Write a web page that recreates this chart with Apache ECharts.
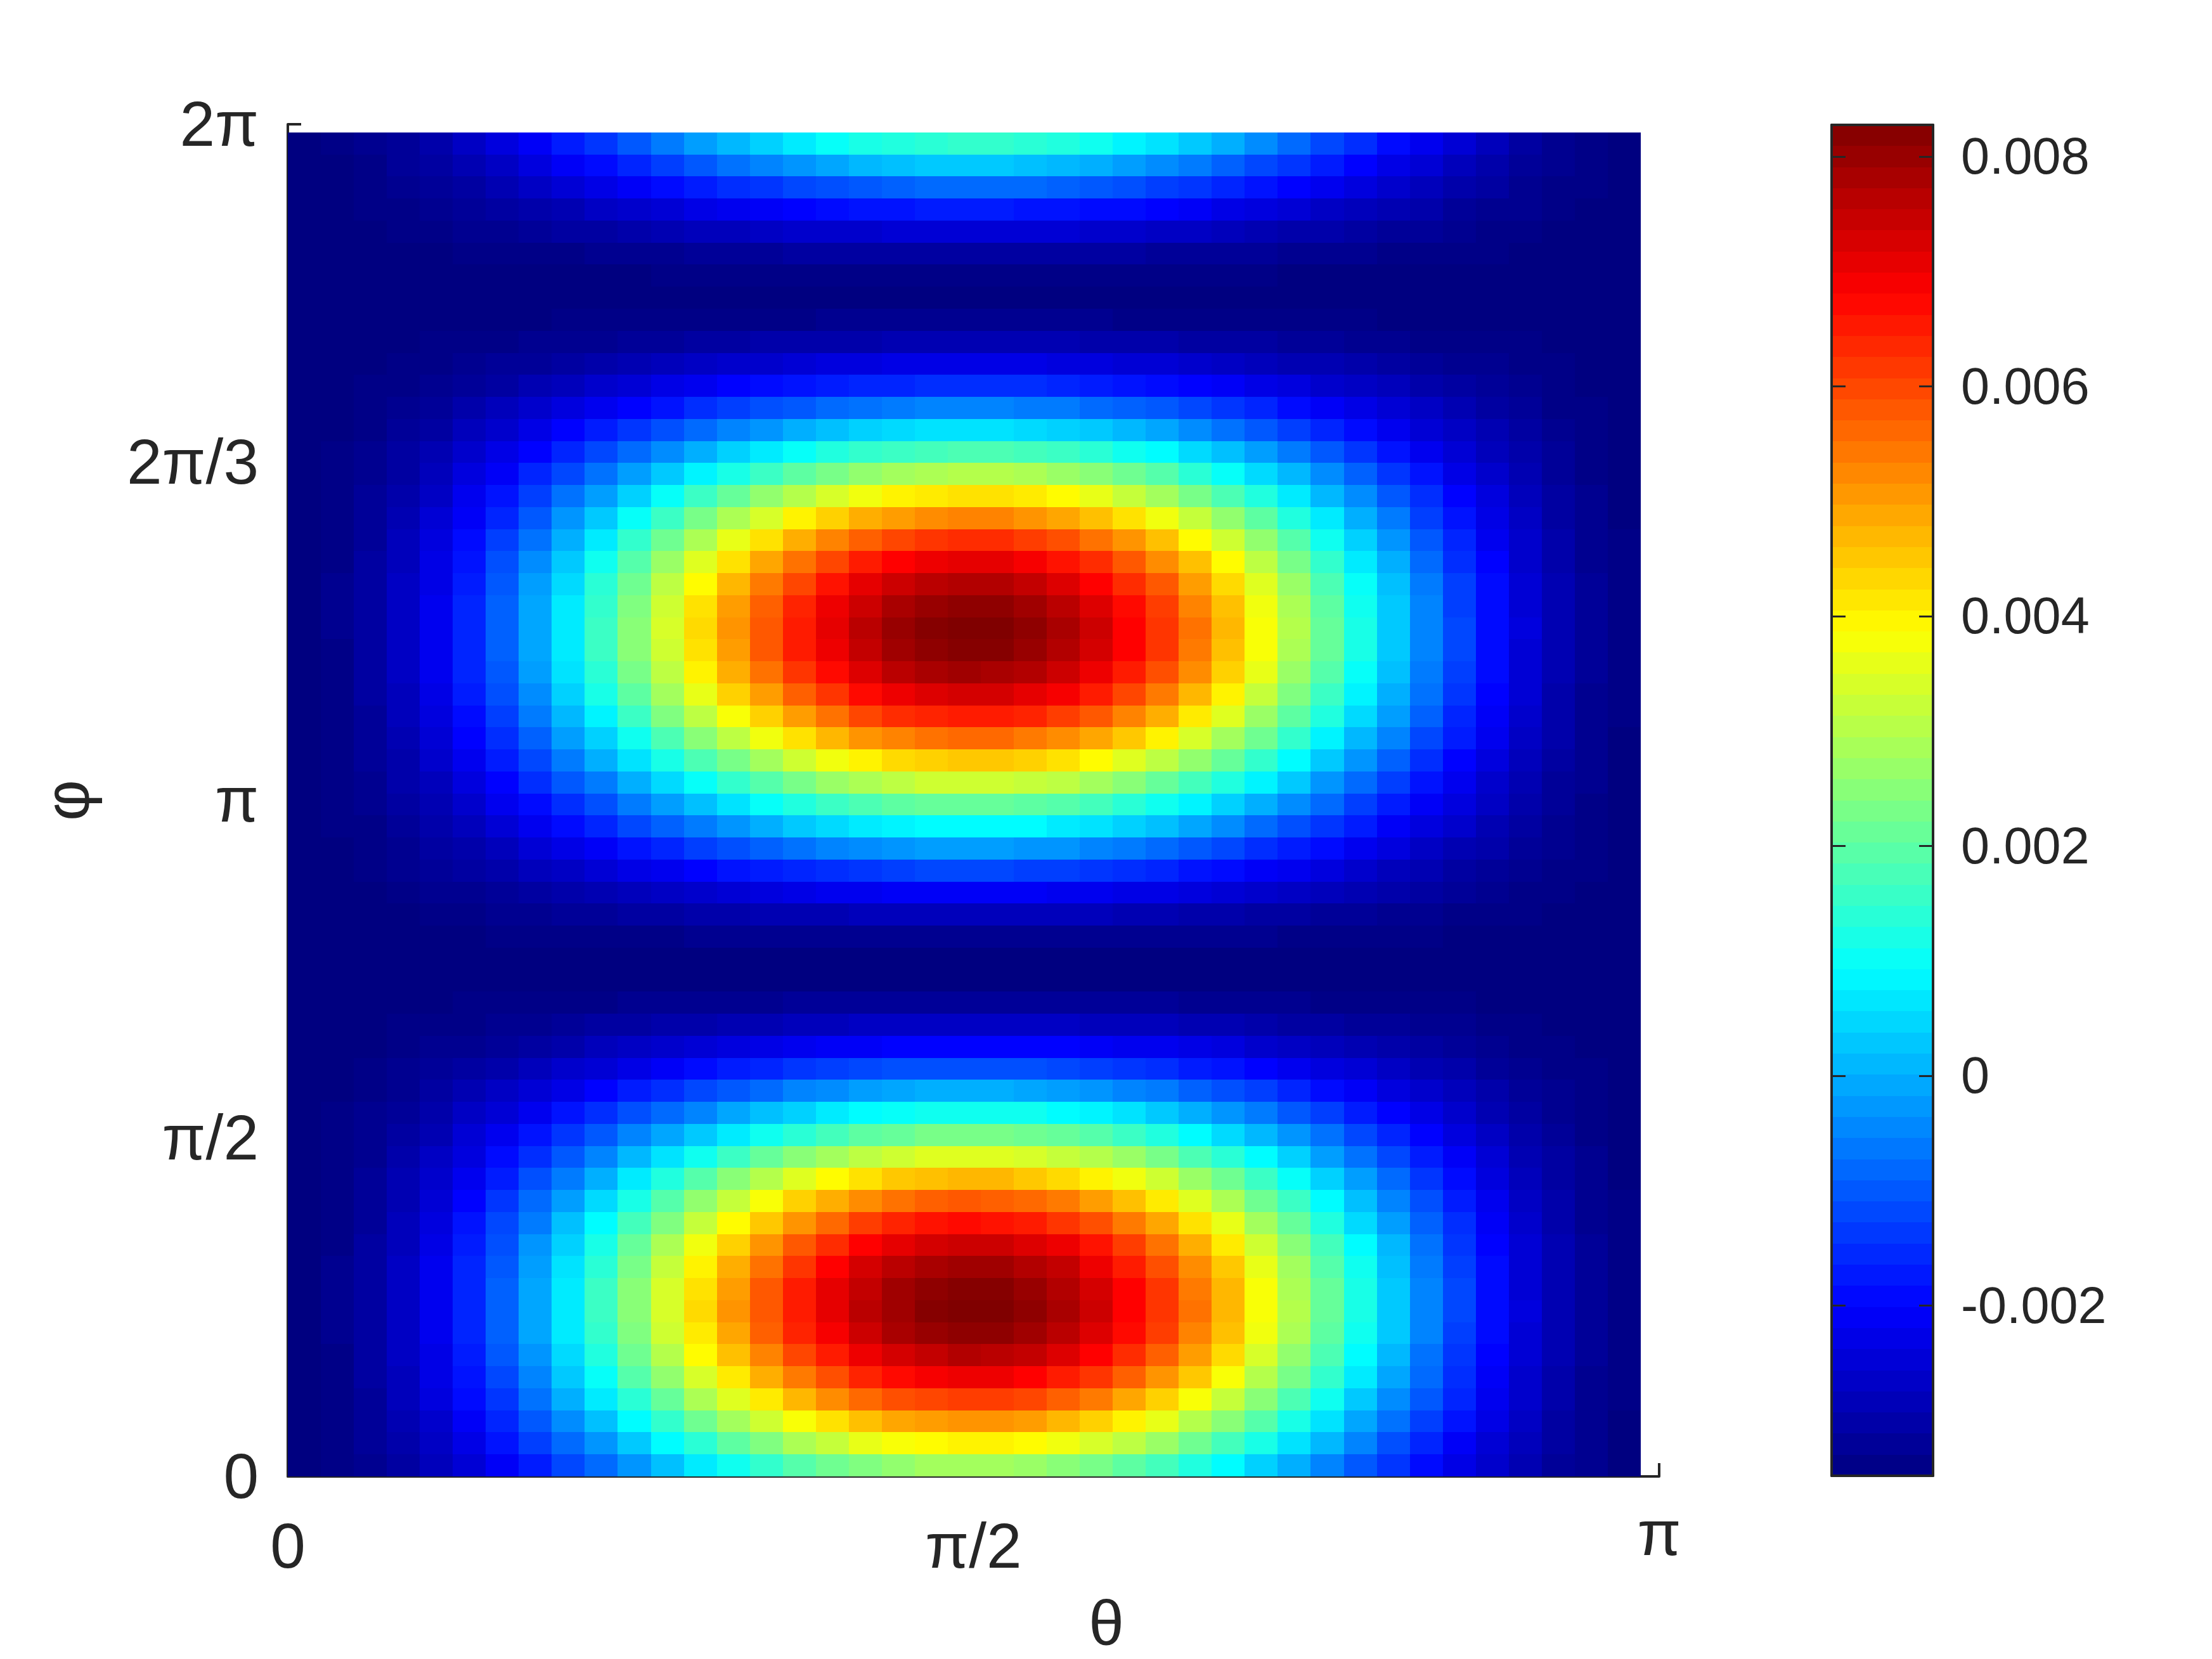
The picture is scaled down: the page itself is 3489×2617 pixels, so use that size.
<!DOCTYPE html>
<html>
<head>
<meta charset="utf-8">
<title>theta phi map</title>
<script src="https://cdn.jsdelivr.net/npm/echarts@6/dist/echarts.min.js"></script>
<style>
html,body{margin:0;padding:0;background:#fff;}
#main{width:3489px;height:2617px;}
</style>
</head>
<body>
<div id="main"></div>
<script>
// tick labels
var thetaTickValues = [0, Math.PI / 2, Math.PI];
var thetaTickLabels = ['0', 'π/2', '{up|π}'];
var phiTickValues = [0, Math.PI / 2, Math.PI, 3 * Math.PI / 2, 2 * Math.PI];
var phiTickLabels = ['0', 'π/2', 'π', '2π/3', '2π'];
var colorbarTickValues = [-0.002, 0, 0.002, 0.004, 0.006, 0.008];
var colorbarTickLabels = ['-0.002', '0', '0.002', '0.004', '0.006', '0.008'];

// the image stops a little short of the axis ends
var thetaDataMax = 3.0994;
var phiDataMax = 6.245;
var colorMin = -0.003482;
var colorMax = 0.008275;
var colorLevels = 64;
var jetColors = ['#000080', '#0000ff', '#0080ff', '#00ffff', '#80ff80', '#ffff00', '#ff8000', '#ff0000', '#800000'];

// values, unit 1e-4, first row is phi=0, 41 columns over theta
var fieldRows = [
[-35,-34,-33,-31,-28,-25,-21,-17,-12,-8,-3,2,7,11,15,19,22,24,26,28,28,28,27,25,23,20,17,13,9,4,0,-5,-10,-14,-19,-23,-26,-29,-32,-33,-35],
[-35,-34,-32,-30,-27,-23,-18,-13,-8,-3,3,9,14,20,24,29,32,36,38,39,40,40,39,37,34,31,27,22,17,12,6,1,-5,-11,-16,-21,-25,-28,-31,-33,-35],
[-35,-34,-32,-29,-26,-21,-16,-10,-4,2,9,15,22,28,33,38,42,46,49,50,51,51,50,47,44,40,36,30,25,19,12,6,-1,-7,-13,-18,-23,-27,-31,-33,-35],
[-35,-34,-32,-28,-24,-19,-14,-7,0,7,14,21,29,35,41,47,52,56,59,60,61,61,60,57,54,49,44,38,32,25,18,11,3,-4,-10,-16,-22,-26,-30,-33,-34],
[-35,-34,-31,-28,-23,-18,-12,-5,3,10,19,26,34,41,48,54,59,64,67,69,70,70,68,65,62,57,51,45,38,30,23,15,7,-1,-8,-15,-21,-26,-30,-33,-34],
[-35,-34,-31,-27,-23,-17,-10,-3,5,13,22,30,39,46,53,60,65,70,73,75,77,76,75,72,68,63,57,50,43,34,26,18,9,1,-7,-14,-20,-25,-29,-32,-34],
[-35,-33,-31,-27,-22,-16,-9,-1,7,15,24,33,41,49,57,64,69,74,78,80,81,81,79,76,72,67,61,53,46,37,29,20,11,3,-5,-13,-19,-25,-29,-32,-34],
[-35,-33,-31,-27,-22,-16,-9,-1,7,16,25,34,43,51,58,65,71,76,79,82,83,83,81,78,74,68,62,55,47,38,30,21,12,3,-5,-12,-19,-24,-29,-32,-34],
[-35,-33,-31,-27,-22,-16,-9,-1,7,16,25,34,42,50,58,65,71,75,79,81,82,82,80,77,73,68,62,54,47,38,29,21,12,3,-5,-12,-19,-25,-29,-32,-34],
[-35,-33,-31,-27,-22,-16,-10,-2,6,14,23,32,40,48,55,62,68,73,76,78,79,79,77,75,70,65,59,52,45,36,28,19,11,2,-6,-13,-19,-25,-29,-32,-34],
[-35,-34,-31,-28,-23,-17,-11,-3,4,12,21,29,37,44,51,58,63,68,71,73,74,74,72,70,66,61,55,48,41,33,25,17,9,1,-7,-14,-20,-25,-29,-32,-34],
[-35,-34,-32,-28,-24,-18,-12,-6,2,9,17,24,32,39,45,51,56,61,64,66,67,66,65,62,59,54,49,42,36,28,21,13,5,-2,-9,-15,-21,-26,-30,-33,-34],
[-35,-34,-32,-29,-25,-20,-14,-8,-2,5,12,19,26,32,38,44,48,52,55,57,58,57,56,54,50,46,41,35,29,22,16,9,2,-5,-11,-17,-22,-27,-30,-33,-34],
[-35,-34,-32,-29,-26,-22,-17,-11,-6,0,7,13,19,25,30,35,39,42,45,46,47,47,45,43,40,37,33,27,22,16,10,4,-2,-8,-14,-19,-24,-28,-31,-33,-35],
[-35,-34,-33,-30,-27,-24,-19,-15,-10,-5,1,6,11,16,21,25,28,31,33,35,35,35,34,32,30,27,23,18,14,9,4,-2,-7,-12,-17,-21,-25,-29,-31,-33,-35],
[-35,-34,-33,-31,-29,-25,-22,-18,-14,-10,-5,-1,3,7,11,14,17,20,21,23,23,23,22,21,19,16,13,9,5,1,-3,-7,-12,-16,-20,-24,-27,-30,-32,-34,-35],
[-35,-34,-33,-32,-30,-27,-25,-22,-18,-15,-11,-8,-5,-1,2,4,7,9,10,11,11,11,11,9,8,6,3,0,-3,-6,-10,-13,-17,-20,-23,-26,-29,-31,-33,-34,-35],
[-35,-35,-34,-33,-31,-29,-27,-25,-23,-20,-17,-15,-12,-10,-8,-5,-4,-2,-1,0,0,0,-1,-2,-3,-5,-6,-9,-11,-13,-16,-19,-21,-24,-26,-28,-30,-32,-33,-34,-35],
[-35,-35,-34,-33,-32,-31,-30,-28,-26,-25,-23,-21,-19,-17,-16,-14,-13,-12,-11,-11,-11,-11,-11,-12,-13,-14,-15,-17,-18,-20,-22,-24,-25,-27,-29,-30,-32,-33,-34,-34,-35],
[-35,-35,-35,-34,-33,-33,-32,-31,-30,-28,-27,-26,-25,-24,-23,-22,-21,-21,-20,-20,-20,-20,-20,-20,-21,-22,-22,-23,-24,-26,-27,-28,-29,-30,-31,-32,-33,-34,-34,-35,-35],
[-35,-35,-35,-34,-34,-34,-33,-33,-32,-31,-31,-30,-30,-29,-29,-28,-28,-27,-27,-27,-27,-27,-27,-27,-28,-28,-28,-29,-29,-30,-31,-31,-32,-32,-33,-33,-34,-34,-35,-35,-35],
[-35,-35,-35,-35,-35,-34,-34,-34,-34,-34,-33,-33,-33,-33,-33,-32,-32,-32,-32,-32,-32,-32,-32,-32,-32,-32,-32,-33,-33,-33,-33,-34,-34,-34,-34,-34,-35,-35,-35,-35,-35],
[-35,-35,-35,-35,-35,-35,-35,-35,-35,-35,-35,-35,-35,-35,-35,-35,-35,-35,-35,-35,-35,-35,-35,-35,-35,-35,-35,-35,-35,-35,-35,-35,-35,-35,-35,-35,-35,-35,-35,-35,-35],
[-35,-35,-35,-35,-35,-35,-35,-35,-35,-35,-35,-35,-35,-35,-35,-35,-35,-35,-35,-35,-35,-35,-35,-35,-35,-35,-35,-35,-35,-35,-35,-35,-35,-35,-35,-35,-35,-35,-35,-35,-35],
[-35,-35,-35,-35,-35,-35,-34,-34,-34,-34,-34,-34,-33,-33,-33,-33,-33,-33,-33,-33,-33,-33,-33,-33,-33,-33,-33,-33,-33,-33,-34,-34,-34,-34,-34,-35,-35,-35,-35,-35,-35],
[-35,-35,-35,-35,-34,-34,-33,-33,-32,-32,-31,-31,-30,-30,-29,-29,-29,-28,-28,-28,-28,-28,-28,-28,-28,-29,-29,-30,-30,-31,-31,-32,-32,-33,-33,-34,-34,-34,-35,-35,-35],
[-35,-35,-35,-34,-33,-33,-32,-31,-30,-29,-28,-27,-26,-25,-24,-23,-22,-22,-21,-21,-21,-21,-21,-22,-22,-23,-23,-24,-25,-26,-27,-28,-29,-30,-31,-32,-33,-34,-34,-35,-35],
[-35,-35,-34,-33,-32,-31,-30,-28,-27,-25,-23,-22,-20,-18,-17,-16,-15,-14,-13,-12,-12,-12,-13,-13,-14,-15,-16,-18,-19,-21,-22,-24,-26,-28,-29,-31,-32,-33,-34,-34,-35],
[-35,-35,-34,-33,-31,-30,-28,-25,-23,-21,-18,-16,-13,-11,-9,-7,-5,-4,-3,-2,-2,-2,-3,-3,-5,-6,-8,-10,-12,-15,-17,-19,-22,-24,-27,-29,-30,-32,-33,-34,-35],
[-35,-34,-34,-32,-30,-28,-25,-22,-19,-16,-12,-9,-6,-3,0,3,5,7,8,9,9,9,9,7,6,4,2,-1,-4,-8,-11,-14,-17,-21,-24,-26,-29,-31,-33,-34,-35],
[-35,-34,-33,-31,-29,-26,-22,-19,-15,-11,-6,-2,2,6,10,13,16,18,20,21,21,21,20,19,17,14,11,8,4,0,-4,-8,-13,-17,-21,-24,-27,-30,-32,-34,-35],
[-35,-34,-33,-30,-28,-24,-20,-15,-10,-6,0,5,10,15,19,23,27,29,31,33,33,33,32,31,28,25,21,17,13,8,3,-3,-8,-13,-18,-22,-26,-29,-32,-33,-35],
[-35,-34,-32,-30,-26,-22,-17,-12,-6,0,6,12,18,23,28,33,37,40,43,44,45,45,44,42,39,35,31,26,21,15,9,3,-3,-9,-15,-20,-24,-28,-31,-33,-35],
[-35,-34,-32,-29,-25,-20,-15,-9,-2,4,11,18,25,31,37,42,47,51,53,55,56,56,54,52,49,45,40,34,28,22,15,8,1,-5,-12,-17,-22,-27,-30,-33,-35],
[-35,-34,-32,-28,-24,-19,-13,-6,1,8,16,24,31,38,44,50,55,60,63,64,65,65,64,61,58,53,48,41,35,27,20,13,5,-2,-9,-16,-21,-26,-30,-33,-34],
[-35,-34,-31,-28,-23,-17,-11,-4,4,12,20,28,36,44,50,57,62,67,70,72,73,73,71,69,65,60,54,47,40,32,24,16,8,0,-7,-14,-20,-25,-30,-33,-34],
[-35,-34,-31,-27,-22,-16,-10,-2,6,14,23,31,40,48,55,62,67,72,76,78,79,78,77,74,70,65,59,52,44,36,27,19,10,2,-6,-13,-19,-25,-29,-32,-34],
[-35,-34,-31,-27,-22,-16,-9,-1,7,16,25,33,42,50,58,65,70,75,79,81,82,82,80,77,73,68,62,54,46,38,29,21,12,3,-5,-12,-19,-25,-29,-32,-34],
[-35,-33,-31,-27,-22,-16,-9,-1,7,16,25,34,43,51,58,65,71,76,80,82,83,83,81,78,74,68,62,55,47,38,30,21,12,3,-5,-12,-19,-24,-29,-32,-34],
[-35,-33,-31,-27,-22,-16,-9,-1,7,15,24,33,42,50,57,64,70,74,78,80,81,81,79,76,72,67,61,53,46,37,29,20,11,3,-5,-13,-19,-25,-29,-32,-34],
[-35,-33,-31,-27,-23,-17,-10,-2,5,14,22,31,39,47,54,60,66,71,74,76,77,77,75,72,68,63,58,50,43,35,27,18,10,2,-6,-13,-19,-25,-29,-32,-34],
[-35,-34,-31,-28,-23,-18,-11,-4,3,11,19,27,35,42,49,55,60,65,68,70,71,71,69,66,63,58,52,46,39,31,23,15,7,0,-8,-15,-20,-26,-30,-33,-34],
[-35,-34,-32,-28,-24,-19,-13,-7,0,7,15,22,29,36,42,48,53,57,60,62,63,63,61,59,55,51,46,39,33,26,19,11,4,-3,-10,-16,-22,-26,-30,-33,-34],
[-35,-34,-32,-29,-25,-21,-16,-10,-3,3,10,16,23,29,34,40,44,48,50,52,53,53,51,49,46,42,37,32,26,20,13,7,0,-6,-13,-18,-23,-27,-31,-33,-35],
[-35,-34,-32,-30,-27,-22,-18,-13,-7,-2,4,10,16,21,26,30,34,37,40,41,42,42,41,39,36,32,28,23,18,13,7,1,-4,-10,-15,-20,-24,-28,-31,-33,-35],
[-35,-34,-33,-31,-28,-24,-21,-16,-12,-7,-2,3,8,12,16,20,23,26,28,29,30,30,29,27,25,22,19,14,10,5,1,-4,-9,-14,-18,-23,-26,-29,-32,-34,-35],
[-35,-34,-33,-31,-29,-26,-23,-20,-16,-12,-8,-4,0,4,7,10,13,15,16,17,18,18,17,16,14,11,9,5,2,-2,-6,-10,-14,-18,-22,-25,-28,-30,-32,-34,-35],
[-35,-35,-34,-32,-31,-28,-26,-23,-20,-17,-14,-11,-8,-5,-3,0,2,4,5,6,6,6,5,4,3,1,-1,-4,-7,-10,-13,-16,-19,-22,-25,-27,-29,-31,-33,-34,-35],
[-35,-35,-34,-33,-32,-30,-28,-26,-24,-22,-20,-18,-15,-13,-11,-10,-8,-7,-6,-5,-5,-5,-6,-6,-8,-9,-10,-12,-14,-16,-19,-21,-23,-25,-27,-29,-31,-32,-34,-34,-35],
[-35,-35,-34,-34,-33,-32,-31,-29,-28,-26,-25,-23,-22,-20,-19,-18,-17,-16,-16,-15,-15,-15,-15,-16,-17,-18,-19,-20,-21,-23,-24,-26,-27,-28,-30,-31,-32,-33,-34,-35,-35],
[-35,-35,-35,-34,-34,-33,-32,-32,-31,-30,-29,-28,-27,-26,-26,-25,-24,-24,-23,-23,-23,-23,-23,-24,-24,-25,-25,-26,-27,-28,-29,-29,-30,-31,-32,-33,-33,-34,-34,-35,-35],
[-35,-35,-35,-35,-34,-34,-34,-33,-33,-33,-32,-32,-31,-31,-30,-30,-30,-30,-29,-29,-29,-29,-29,-29,-30,-30,-30,-31,-31,-31,-32,-32,-33,-33,-34,-34,-34,-34,-35,-35,-35],
[-35,-35,-35,-35,-35,-35,-35,-35,-34,-34,-34,-34,-34,-34,-34,-34,-33,-33,-33,-33,-33,-33,-33,-33,-33,-34,-34,-34,-34,-34,-34,-34,-34,-35,-35,-35,-35,-35,-35,-35,-35],
[-35,-35,-35,-35,-35,-35,-35,-35,-35,-35,-35,-35,-35,-35,-35,-35,-35,-35,-35,-35,-35,-35,-35,-35,-35,-35,-35,-35,-35,-35,-35,-35,-35,-35,-35,-35,-35,-35,-35,-35,-35],
[-35,-35,-35,-35,-35,-35,-35,-35,-35,-35,-35,-34,-34,-34,-34,-34,-34,-34,-34,-34,-34,-34,-34,-34,-34,-34,-34,-34,-34,-34,-35,-35,-35,-35,-35,-35,-35,-35,-35,-35,-35],
[-35,-35,-35,-35,-35,-34,-34,-34,-34,-33,-33,-33,-32,-32,-32,-31,-31,-31,-31,-31,-31,-31,-31,-31,-31,-31,-32,-32,-32,-32,-33,-33,-33,-34,-34,-34,-34,-35,-35,-35,-35],
[-35,-35,-35,-34,-34,-33,-33,-32,-31,-31,-30,-29,-28,-28,-27,-26,-26,-26,-25,-25,-25,-25,-25,-25,-26,-26,-27,-27,-28,-29,-30,-30,-31,-32,-32,-33,-34,-34,-35,-35,-35],
[-35,-35,-34,-34,-33,-32,-31,-30,-29,-27,-26,-25,-23,-22,-21,-20,-19,-18,-18,-17,-17,-17,-18,-18,-19,-19,-20,-21,-23,-24,-25,-27,-28,-29,-30,-32,-33,-33,-34,-35,-35],
[-35,-35,-34,-33,-32,-31,-29,-27,-25,-23,-21,-19,-17,-15,-14,-12,-11,-10,-9,-8,-8,-8,-8,-9,-10,-11,-13,-14,-16,-18,-20,-22,-24,-26,-28,-30,-31,-33,-34,-34,-35],
[-35,-35,-34,-32,-31,-29,-27,-24,-21,-19,-16,-13,-10,-7,-5,-3,-1,1,2,3,3,3,2,1,0,-2,-4,-6,-9,-12,-14,-17,-20,-23,-25,-28,-30,-32,-33,-34,-35],
[-35,-34,-33,-32,-30,-27,-24,-21,-17,-14,-10,-6,-2,1,4,7,10,12,13,14,15,15,14,13,11,8,6,3,0,-4,-8,-12,-15,-19,-22,-25,-28,-31,-33,-34,-35]
];

var textColor = '#262626';
var labelFont = '"Liberation Sans", Arial, sans-serif';

// [theta0, theta1, phi0, phi1, value] for every cell of the map
function getFieldData(){
    var data = [];
    var rows = fieldRows.length;
    for(var j=0;j<rows;j++){
        var cols = fieldRows[j].length;
        for(var i=0;i<cols;i++){
            data.push([
                thetaDataMax*i/cols, thetaDataMax*(i+1)/cols,
                phiDataMax*j/rows, phiDataMax*(j+1)/rows,
                fieldRows[j][i]*1e-4
            ]);
        }
    }
    return data;
}

// one cell per colour level of the bar
function getColorbarData(){
    var data = [];
    var step = (colorMax-colorMin)/colorLevels;
    for(var i=0;i<colorLevels;i++){
        data.push([0, 1, colorMin+step*i, colorMin+step*(i+1), colorMin+step*(i+0.5)]);
    }
    return data;
}

// whole pixels so that no white seam shows between cells
function renderCell(params, api){
    var p0 = api.coord([api.value(0), api.value(2)]);
    var p1 = api.coord([api.value(1), api.value(3)]);
    var x0 = Math.round(p0[0]), x1 = Math.round(p1[0]);
    var y0 = Math.round(p0[1]), y1 = Math.round(p1[1]);
    return {
        type: 'rect',
        shape: {x: x0, y: y1, width: x1-x0, height: y0-y1},
        style: {fill: api.visual('color')}
    };
}

function pickLabel(values, labels){
    return function(value){
        for(var i=0;i<values.length;i++){
            if(Math.abs(values[i]-value)<1e-9){
                return labels[i];
            }
        }
        return '';
    };
}

var myChart = echarts.init(document.getElementById('main'));
var frameLine = {show: true, onZero: false, lineStyle: {color: textColor, width: 4}};

var option = {
    animation: false,
    backgroundColor: '#fff',
    grid: [
        {left: 454, top: 196, width: 2163, height: 2133},
        {left: 2889, top: 197, width: 160, height: 2131}
    ],
    visualMap: {
        show: false,
        type: 'continuous',
        min: colorMin,
        max: colorMax,
        dimension: 4,
        seriesIndex: [0, 1],
        inRange: {color: jetColors}
    },
    xAxis: [
        {
            gridIndex: 0, type: 'value', min: 0, max: Math.PI, position: 'bottom',
            axisLine: frameLine,
            axisTick: {show: true, inside: true, length: 21, customValues: thetaTickValues,
                lineStyle: {color: textColor, width: 4}},
            axisLabel: {show: true, margin: 66, customValues: thetaTickValues, hideOverlap: false,
                showMinLabel: true, showMaxLabel: true,
                formatter: pickLabel(thetaTickValues, thetaTickLabels),
                color: textColor, fontFamily: labelFont, fontSize: 100,
                // the pi label sits higher, its top lines up with the digits
                rich: {up: {lineHeight: 60, color: textColor, fontFamily: labelFont, fontSize: 100}}},
            splitLine: {show: false}
        },
        {
            gridIndex: 1, type: 'value', min: 0, max: 1, position: 'bottom', z: 5,
            axisLine: frameLine, axisTick: {show: false}, axisLabel: {show: false}, splitLine: {show: false}
        },
        {
            gridIndex: 1, type: 'value', min: 0, max: 1, position: 'top', z: 5,
            axisLine: frameLine, axisTick: {show: false}, axisLabel: {show: false}, splitLine: {show: false}
        }
    ],
    yAxis: [
        {
            gridIndex: 0, type: 'value', min: 0, max: 2*Math.PI, position: 'left',
            name: 'φ', nameLocation: 'middle', nameGap: 292, nameRotate: 90,
            nameTextStyle: {color: textColor, fontFamily: labelFont, fontSize: 100},
            axisLine: frameLine,
            axisTick: {show: true, inside: true, length: 21, customValues: phiTickValues,
                lineStyle: {color: textColor, width: 4}},
            // top aligned with a small line height moves the text just below the tick
            axisLabel: {show: true, margin: 46, verticalAlign: 'top', lineHeight: 12, customValues: phiTickValues, hideOverlap: false,
                showMinLabel: true, showMaxLabel: true,
                formatter: pickLabel(phiTickValues, phiTickLabels),
                color: textColor, fontFamily: labelFont, fontSize: 100},
            splitLine: {show: false}
        },
        {
            gridIndex: 1, type: 'value', min: colorMin, max: colorMax, position: 'left', z: 5,
            axisLine: frameLine,
            axisTick: {show: true, inside: true, length: 22, customValues: colorbarTickValues,
                lineStyle: {color: textColor, width: 3}},
            axisLabel: {show: false},
            splitLine: {show: false}
        },
        {
            gridIndex: 1, type: 'value', min: colorMin, max: colorMax, position: 'right', z: 5,
            axisLine: frameLine,
            axisTick: {show: true, inside: true, length: 22, customValues: colorbarTickValues,
                lineStyle: {color: textColor, width: 3}},
            axisLabel: {show: true, margin: 44, verticalAlign: 'top', lineHeight: 10, customValues: colorbarTickValues, hideOverlap: false,
                formatter: pickLabel(colorbarTickValues, colorbarTickLabels),
                color: textColor, fontFamily: labelFont, fontSize: 81},
            splitLine: {show: false}
        }
    ],
    graphic: [{
        type: 'text', x: 1745, y: 2567,
        style: {text: 'θ', fill: textColor, font: '100px ' + labelFont, align: 'center', verticalAlign: 'middle'}
    }],
    series: [
        {
            type: 'custom', xAxisIndex: 0, yAxisIndex: 0, coordinateSystem: 'cartesian2d',
            renderItem: renderCell, clip: false, silent: true,
            encode: {x: [0, 1], y: [2, 3]},
            data: getFieldData()
        },
        {
            type: 'custom', xAxisIndex: 1, yAxisIndex: 1, coordinateSystem: 'cartesian2d',
            renderItem: renderCell, clip: false, silent: true,
            encode: {x: [0, 1], y: [2, 3]},
            data: getColorbarData()
        }
    ]
};
myChart.setOption(option);
</script>
</body>
</html>
